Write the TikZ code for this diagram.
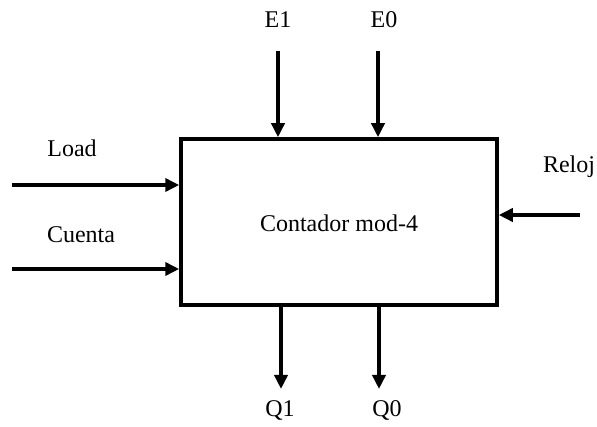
\documentclass[tikz,border=0pt]{standalone}
\usepackage{fontspec}
\setmainfont{Liberation Serif}
\usetikzlibrary{arrows.meta}
\begin{document}
\begin{tikzpicture}[x=1pt,y=-1pt,
  lbl/.style={anchor=base,inner sep=0pt,font=\fontsize{24}{28}\selectfont},
  sig/.style={line width=3.5pt,-{Triangle[length=14pt,width=13pt]}},
  blk/.style={draw,line width=3.5pt,minimum width=316pt,minimum height=166pt,inner sep=0pt}]
\useasboundingbox (0,0) rectangle (597,427);
\node[blk] (box) at (339,222) {};
\node[lbl] (txt) at (339,232) {Contador mod-4};
% inputs top
\coordinate (e1s) at (278,51);
\coordinate (e0s) at (378,51);
\draw[sig] (e1s) -- (e1s |- box.north);
\draw[sig] (e0s) -- (e0s |- box.north);
\node[lbl] (e1) at (278,28) {E1};
\node[lbl] (e0) at (384,28) {E0};
% inputs left
\coordinate (ls) at (12,185);
\coordinate (cs) at (12,269);
\draw[sig] (ls) -- (ls -| box.west);
\draw[sig] (cs) -- (cs -| box.west);
\node[lbl] (load) at (72,157) {Load};
\node[lbl] (cuenta) at (81,243) {Cuenta};
% input right
\coordinate (rs) at (580,215);
\draw[sig] (rs) -- (rs -| box.east);
\node[lbl] (reloj) at (569,173) {Reloj};
% outputs bottom
\coordinate (q1e) at (281,389);
\coordinate (q0e) at (379,389);
\draw[sig] (q1e |- box.south) -- (q1e);
\draw[sig] (q0e |- box.south) -- (q0e);
\node[lbl] (q1) at (280,417) {Q1};
\node[lbl] (q0) at (387,417) {Q0};
\end{tikzpicture}
\end{document}
